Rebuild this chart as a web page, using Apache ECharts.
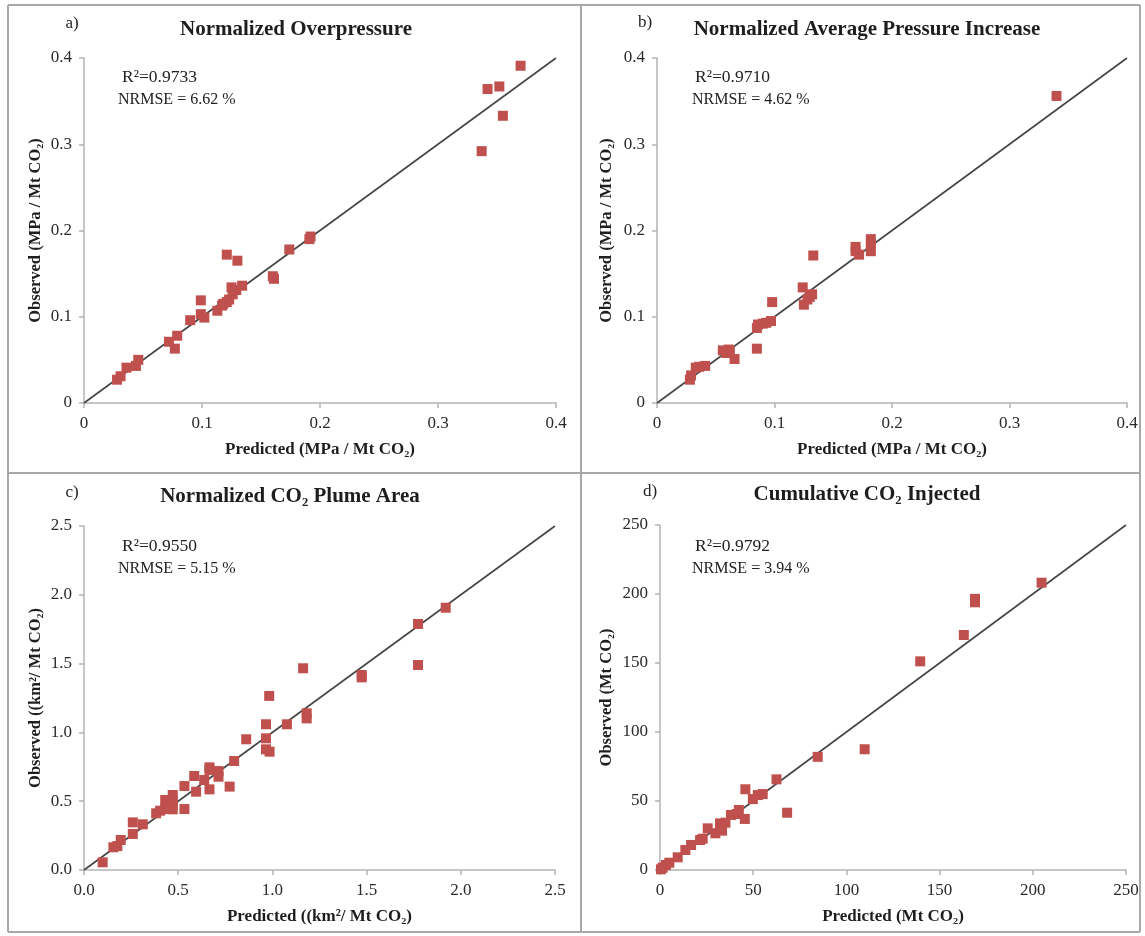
<!DOCTYPE html>
<html>
<head>
<meta charset="utf-8">
<script src="https://cdn.jsdelivr.net/npm/echarts@6/dist/echarts.min.js"></script>
<style>
html,body{margin:0;padding:0;background:#fff;}
#chart{width:1145px;height:936px;}
</style>
</head>
<body>
<div id="chart"></div>
<script>
// ---------- DATA ----------
// Panel a: Normalized Overpressure (MPa / Mt CO2)
const aPred = [0.370,0.342,0.352,0.355,0.337,0.192,0.191,0.174,0.160,0.161,0.121,0.130,0.125,0.134,0.129,0.126,0.123,0.118,0.113,0.117,0.121,0.099,0.099,0.102,0.090,0.079,0.072,0.077,0.046,0.044,0.036,0.031,0.028];
const aObs  = [0.391,0.364,0.367,0.333,0.292,0.193,0.190,0.178,0.147,0.144,0.172,0.165,0.134,0.136,0.131,0.126,0.120,0.115,0.107,0.113,0.117,0.119,0.103,0.099,0.096,0.078,0.071,0.063,0.050,0.043,0.041,0.031,0.027];
// Panel b: Normalized Average Pressure Increase
const bPred = [0.340,0.182,0.182,0.182,0.169,0.169,0.172,0.133,0.124,0.125,0.128,0.132,0.130,0.098,0.097,0.093,0.090,0.086,0.085,0.085,0.061,0.056,0.059,0.062,0.066,0.041,0.036,0.033,0.029,0.028];
const bObs  = [0.356,0.190,0.184,0.176,0.181,0.176,0.172,0.171,0.134,0.114,0.120,0.126,0.123,0.117,0.095,0.093,0.092,0.091,0.087,0.063,0.062,0.061,0.058,0.060,0.051,0.043,0.042,0.041,0.032,0.027];
// Panel c: Normalized CO2 Plume Area
const cPred = [1.920,1.773,1.773,1.163,1.474,1.474,0.983,1.182,1.182,1.077,0.966,0.966,0.861,0.966,0.985,0.797,0.666,0.666,0.714,0.714,0.638,0.773,0.666,0.585,0.595,0.533,0.533,0.471,0.471,0.471,0.471,0.431,0.431,0.404,0.383,0.312,0.259,0.259,0.195,0.177,0.156,0.099];
const cObs  = [1.906,1.788,1.490,1.466,1.417,1.400,1.265,1.139,1.102,1.059,1.059,0.957,0.950,0.877,0.860,0.792,0.746,0.727,0.719,0.678,0.654,0.606,0.586,0.683,0.569,0.610,0.443,0.545,0.509,0.472,0.441,0.509,0.443,0.431,0.412,0.332,0.346,0.262,0.218,0.174,0.165,0.056];
// Panel d: Cumulative CO2 Injected (Mt CO2)
const dPred = [204.7,169,169,163,139.6,109.8,84.6,68.2,62.5,55.1,52.5,49.8,45.8,45.5,42.3,41.2,38.1,35.1,32.2,32.2,33.3,29.7,25.6,22.9,21.5,16.7,13.6,9.5,5.0,3.2,1.4,0.5];
const dObs  = [208.2,196.5,194,170.3,151.2,87.5,82.0,41.5,65.7,55.0,54.3,51.4,58.5,37.0,43.5,40.6,39.9,34.3,33.8,30.9,28.5,26.6,30.2,22.7,21.7,18.1,14.5,9.2,5.3,3.6,1.7,0.5];

// Tick labels
const ticksAB = ['0','0.1','0.2','0.3','0.4'];
const ticksC  = ['0.0','0.5','1.0','1.5','2.0','2.5'];
const ticksD  = ['0','50','100','150','200','250'];

// Texts
const panelLetters = ['a)','b)','c)','d)'];
const titles = ['Normalized Overpressure','Normalized Average Pressure Increase','Normalized CO\u2082 Plume Area','Cumulative CO\u2082 Injected'];
const r2Texts = ['R\u00b2=0.9733','R\u00b2=0.9710','R\u00b2=0.9550','R\u00b2=0.9792'];
const nrmseTexts = ['NRMSE = 6.62 %','NRMSE = 4.62 %','NRMSE = 5.15 %','NRMSE = 3.94 %'];
const xNames = ['Predicted (MPa / Mt CO\u2082)','Predicted (MPa / Mt CO\u2082)','Predicted ((km\u00b2/ Mt CO\u2082)','Predicted (Mt CO\u2082)'];
const yNames = ['Observed (MPa / Mt CO\u2082)','Observed (MPa / Mt CO\u2082)','Observed ((km\u00b2/ Mt CO\u2082)','Observed (Mt CO\u2082)'];
const axisMax = [0.4, 0.4, 2.5, 250];
const axisInterval = [0.1, 0.1, 0.5, 50];
const tickSets = [ticksAB, ticksAB, ticksC, ticksD];

// ---------- LAYOUT ----------
const FONT = '"Liberation Serif", "Times New Roman", serif';
const grids = [
  {left: 84,  top: 58,  width: 472, height: 345},
  {left: 657, top: 58,  width: 470, height: 345},
  {left: 84,  top: 526, width: 471, height: 344},
  {left: 660, top: 525, width: 466, height: 345}
];
const yNameGap = [40, 42, 40, 45];
const titlePos = [[296,30],[867,30],[290,497],[867,495]];
const letterPos = [[72,24],[645,23],[72,493],[650,492]];
const annPos = [[122,77,118,100],[695,77,692,100],[122,546,118,569],[695,546,692,569]];

const axisColor = '#b4b4b4';
const markColor = '#c0504d';

const pairs = [[aPred,aObs],[bPred,bObs],[cPred,cObs],[dPred,dObs]];

const xAxes = [], yAxes = [], series = [], graphics = [];
for (let i = 0; i < 4; i++) {
  const ticks = tickSets[i];
  const common = {
    type: 'value', gridIndex: i, min: 0, max: axisMax[i], interval: axisInterval[i],
    splitLine: {show: false},
    axisLine: {show: true, lineStyle: {color: axisColor, width: 1.5}},
    axisTick: {show: true, length: 5, lineStyle: {color: axisColor, width: 1.5}},
    axisLabel: {
      fontFamily: FONT, fontSize: 17, color: '#2a2a2a', margin: 12,
      formatter: (v) => ticks[Math.round(v / axisInterval[i])]
    },
    nameLocation: 'middle',
    nameTextStyle: {fontFamily: FONT, fontWeight: 'bold', color: '#1e1e1e'}
  };
  xAxes.push(Object.assign({}, common, {name: xNames[i], nameGap: 38,
    nameTextStyle: Object.assign({}, common.nameTextStyle, {fontSize: 17})}));
  yAxes.push(Object.assign({}, common, {name: yNames[i], nameGap: yNameGap[i],
    nameTextStyle: Object.assign({}, common.nameTextStyle, {fontSize: 16.5})}));

  series.push({
    type: 'line', xAxisIndex: i, yAxisIndex: i,
    data: [[0,0],[axisMax[i], axisMax[i]]],
    symbol: 'none', silent: true,
    lineStyle: {color: '#444444', width: 1.6}, z: 2
  });
  series.push({
    type: 'scatter', xAxisIndex: i, yAxisIndex: i,
    data: pairs[i][0].map((p, k) => [p, pairs[i][1][k]]),
    symbol: 'rect', symbolSize: 10,
    itemStyle: {color: markColor, opacity: 1}, z: 3
  });

  graphics.push({type: 'text', x: titlePos[i][0], y: titlePos[i][1],
    style: {text: titles[i], font: 'bold 21px ' + FONT, fill: '#1e1e1e', align: 'center', verticalAlign: 'middle', textAlign: 'center', textVerticalAlign: 'middle'}});
  graphics.push({type: 'text', x: letterPos[i][0], y: letterPos[i][1],
    style: {text: panelLetters[i], font: '17px ' + FONT, fill: '#222', align: 'center', verticalAlign: 'middle', textAlign: 'center', textVerticalAlign: 'middle'}});
  graphics.push({type: 'text', x: annPos[i][0], y: annPos[i][1],
    style: {text: r2Texts[i], font: '17.5px ' + FONT, fill: '#222', align: 'left', verticalAlign: 'middle', textAlign: 'left', textVerticalAlign: 'middle'}});
  graphics.push({type: 'text', x: annPos[i][2], y: annPos[i][3],
    style: {text: nrmseTexts[i], font: '16px ' + FONT, fill: '#222', align: 'left', verticalAlign: 'middle', textAlign: 'left', textVerticalAlign: 'middle'}});
}

// Panel borders
const borderStyle = {stroke: '#a8a8a8', lineWidth: 2};
[[8,5,8,932],[581,5,581,932],[1140,5,1140,932],[8,5,1140,5],[8,473,1140,473],[8,932,1140,932]].forEach(s => {
  graphics.push({type: 'line', shape: {x1: s[0], y1: s[1], x2: s[2], y2: s[3]}, style: borderStyle, silent: true});
});

const chart = echarts.init(document.getElementById('chart'), null, {renderer: 'canvas'});
chart.setOption({
  animation: false,
  backgroundColor: '#ffffff',
  grid: grids,
  xAxis: xAxes,
  yAxis: yAxes,
  series: series,
  graphic: graphics
});
</script>
</body>
</html>
